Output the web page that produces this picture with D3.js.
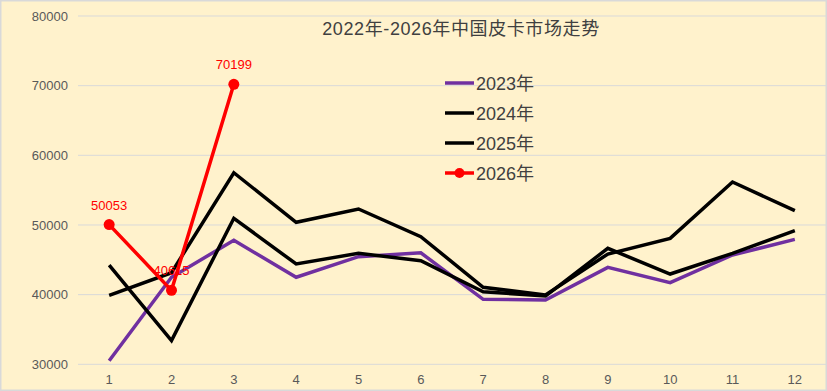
<!DOCTYPE html>
<html lang="zh">
<meta charset="utf-8">
<head>
    <script src="https://d3js.org/d3.v7.min.js"></script>
</head>
<body style="margin:0;background:#fff">
<style>
    text { font-family: "Liberation Sans", Arial, "Noto Sans CJK SC", sans-serif; }
</style>
<svg width="827" height="391"></svg>
<script>
// data
var months = ["1","2","3","4","5","6","7","8","9","10","11","12"];
var yTicks = [30000, 40000, 50000, 60000, 70000, 80000];
var s2023 = [30500, 42500, 47800, 42500, 45450, 46000, 39330, 39230, 43920, 41720, 45690, 47940];
var s2024 = [44250, 33400, 50960, 44400, 45930, 44870, 40420, 39800, 46650, 42960, 45930, 49180];
var s2025 = [39900, 43150, 57500, 50380, 52300, 48320, 41050, 39950, 45830, 48080, 56170, 52050];
var s2026 = [50053, 40615, 70199];
var seriesNames = ["2023年", "2024年", "2025年", "2026年"];
var seriesColors = ["#7030a0", "#000000", "#000000", "#ff0000"];

var svg = d3.select("svg");
var W = 827, H = 391;

// background + border
svg.append("rect")
    .attr("x", 0.75).attr("y", 0.75)
    .attr("width", W - 1.5).attr("height", H - 1.5)
    .attr("fill", "#fff2cc")
    .attr("stroke", "#d9d9d9")
    .attr("stroke-width", 1.5);

// scales
var x = d3.scaleBand().domain(months).range([78, 826]);
var y = d3.scaleLinear().domain([30000, 80000]).range([364.3, 16]);
function cx(i) { return x(months[i]) + x.bandwidth() / 2; }

// gridlines
svg.append("g").selectAll("line")
    .data(yTicks)
    .enter().append("line")
    .attr("x1", 78).attr("x2", 826)
    .attr("y1", function(d) { return y(d); })
    .attr("y2", function(d) { return y(d); })
    .attr("stroke", "#d9d9d9")
    .attr("stroke-width", 1);

// y axis
var gy = svg.append("g")
    .attr("transform", "translate(70,0)")
    .call(d3.axisLeft(y).tickValues(yTicks).tickSize(0).tickPadding(2).tickFormat(d3.format("d")));
gy.select(".domain").remove();
gy.selectAll("text").attr("fill", "#595959").attr("font-size", "13px")
    .attr("font-family", "Liberation Sans, Arial, sans-serif");

// x axis
var gx = svg.append("g")
    .attr("transform", "translate(0,375)")
    .call(d3.axisBottom(x).tickSize(0).tickPadding(0));
gx.select(".domain").remove();
gx.selectAll("text").attr("fill", "#595959").attr("font-size", "13px")
    .attr("dy", "0.71em")
    .attr("font-family", "Liberation Sans, Arial, sans-serif");

// title
svg.append("text")
    .attr("x", 461)
    .attr("y", 35)
    .attr("text-anchor", "middle")
    .attr("font-size", "18px")
    .attr("letter-spacing", "0.6px")
    .attr("fill", "#404040")
    .text("2022年-2026年中国皮卡市场走势");

var line = d3.line()
    .x(function(d, i) { return cx(i); })
    .y(function(d) { return y(d); });

var allSeries = [s2023, s2024, s2025];
allSeries.forEach(function(s, k) {
    svg.append("path")
        .datum(s)
        .attr("d", line)
        .attr("fill", "none")
        .attr("stroke", seriesColors[k])
        .attr("stroke-width", 3.5)
        .attr("stroke-linejoin", "miter");
});

// 2026 labels (under the red line, as in the picture)
svg.append("g").selectAll("text")
    .data(s2026)
    .enter().append("text")
    .attr("x", function(d, i) { return cx(i); })
    .attr("y", function(d) { return y(d) - 15; })
    .attr("text-anchor", "middle")
    .attr("font-size", "13px")
    .attr("fill", "#ff0000")
    .text(function(d) { return d; });

svg.append("path")
    .datum(s2026)
    .attr("d", line)
    .attr("fill", "none")
    .attr("stroke", seriesColors[3])
    .attr("stroke-width", 3.5);

svg.append("g").selectAll("circle")
    .data(s2026)
    .enter().append("circle")
    .attr("cx", function(d, i) { return cx(i); })
    .attr("cy", function(d) { return y(d); })
    .attr("r", 5.5)
    .attr("fill", "#ff0000");

// legend
var legend = svg.append("g").selectAll("g")
    .data(seriesNames)
    .enter().append("g")
    .attr("transform", function(d, i) { return "translate(445," + (83 + i * 30) + ")"; });
legend.append("line")
    .attr("x1", 0).attr("x2", 29)
    .attr("stroke", function(d, i) { return seriesColors[i]; })
    .attr("stroke-width", 3.5);
legend.filter(function(d, i) { return i === 3; })
    .append("circle")
    .attr("cx", 14.5).attr("r", 5)
    .attr("fill", "#ff0000");
legend.append("text")
    .attr("x", 31)
    .attr("y", 6.5)
    .attr("font-size", "18px")
    .attr("fill", "#404040")
    .text(function(d) { return d; });
</script>
</body>
</html>
